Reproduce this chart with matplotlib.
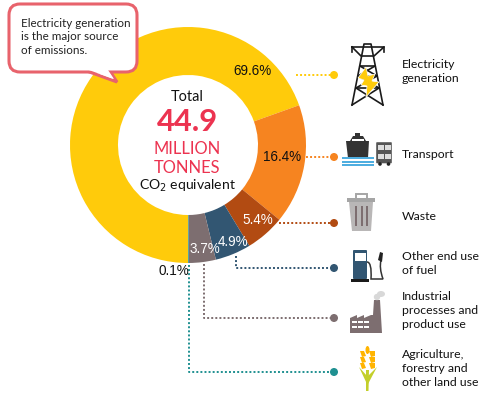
import matplotlib
matplotlib.use('Agg')
import matplotlib.pyplot as plt
from matplotlib.patches import Circle, FancyBboxPatch, Polygon, Rectangle, PathPatch, Ellipse
from matplotlib.path import Path

plt.rcParams['font.family'] = ['Lato', 'DejaVu Sans']

# slices, clockwise from six o'clock
sectors = ['Electricity generation', 'Transport', 'Waste', 'Other end use of fuel',
           'Industrial processes and product use', 'Agriculture, forestry and other land use']
shares = [69.6, 16.4, 5.4, 4.9, 3.7, 0.1]
share_labels = ['69.6%', '16.4%', '5.4%', '4.9%', '3.7%', '0.1%']
colours = ['#FFCB0B', '#F68420', '#B24B12', '#325672', '#7D6E70', '#1F9091']

legend_lines = [['Electricity', 'generation'], ['Transport'], ['Waste'],
                ['Other end use', 'of fuel'], ['Industrial', 'processes and', 'product use'],
                ['Agriculture,', 'forestry and', 'other land use']]
total = '44.9'

px = 0.72  # pixels to points at dpi 100
fig = plt.figure(figsize=(5, 3.95), dpi=100)
ax = fig.add_axes([0, 0, 1, 1])

# y axis runs downward so everything can be placed in picture pixels
ax.pie(shares, colors=colours, center=(188, 145), radius=118, startangle=90,
       counterclock=True, frame=True, wedgeprops={'width': 48, 'linewidth': 0})
ax.set_xlim(0, 500)
ax.set_ylim(395, 0)
ax.axis('off')

# slice labels
label_xy = [(253, 71), (282, 157), (258, 220), (233, 242), (205, 249), (174, 271)]
label_col = ['#111111', '#111111', 'white', 'white', 'white', '#111111']
for s, (x, y), c in zip(share_labels, label_xy, label_col):
    ax.text(x, y, s, color=c, fontsize=13.5*px, ha='center', va='center',
            family=['Liberation Sans', 'DejaVu Sans'])

# centre text
red = '#EC3350'
ax.text(187, 97, 'Total', fontsize=14.5*px, ha='center', va='center', color='#111111')
ax.text(188, 122, total, fontsize=31*px, ha='center', va='center', color=red, fontweight='bold')
ax.text(187, 149, 'MILLION', fontsize=16.5*px, ha='center', va='center', color=red)
ax.text(187, 168, 'TONNES', fontsize=16.5*px, ha='center', va='center', color=red)
ax.text(187, 186, 'CO$_2$ equivalent', fontsize=14*px, ha='center', va='center', color='#111111',
        math_fontfamily='dejavusans')

# leader lines
leaders = [[(296, 75), (334, 75)], [(306, 157), (334, 157)], [(279, 223), (334, 223)],
           [(236, 256), (236, 268), (334, 268)], [(204, 264), (204, 318), (334, 318)],
           [(189, 265), (189, 372), (334, 372)]]
for pts, c in zip(leaders, colours):
    ax.plot([p[0] for p in pts], [p[1] for p in pts], color=c, lw=1.4,
            ls=(0, (1, 1.1)))
    ax.add_patch(Circle(pts[-1], 4, color=c, lw=0, zorder=3))

# legend text
line_y = [[65, 79], [155], [216], [257, 271], [297, 311, 325], [355, 369, 383]]
for lines, ys in zip(legend_lines, line_y):
    for t, y in zip(lines, ys):
        ax.text(402, y, t, fontsize=12.2*px, ha='left', va='center', color='#111111')

# callout
edge = '#E8636C'
ax.add_patch(Polygon([(84, 70), (117, 82), (108, 68)], fc='white', ec=edge, lw=2.2, zorder=4))
ax.add_patch(FancyBboxPatch((20, 15), 106, 46, boxstyle='round,pad=11', fc='white', ec=edge,
                            lw=2.2, zorder=5))
ax.add_patch(Polygon([(86, 69), (114, 79), (106, 67)], fc='white', ec='none', zorder=6))
ax.text(21, 37, 'Electricity generation\nis the major source\nof emissions.', fontsize=11.6*px,
        ha='left', va='center', linespacing=1.25, color='#222222', zorder=7)

# --- icons ---
dark = '#1A1A1A'
# tower
for seg in [[(352, 105), (364, 44), (371, 44), (383, 105)],
            [(352, 47), (384, 47), (374, 56), (361, 56), (352, 47)],
            [(352, 52), (352, 47)], [(384, 52), (384, 47)],
            [(360, 66), (375, 66)], [(358, 76), (377, 76)], [(356, 88), (379, 88)],
            [(360, 66), (377, 76), (356, 88), (383, 105)], [(375, 66), (358, 76), (379, 88), (352, 105)]]:
    ax.plot([p[0] for p in seg], [p[1] for p in seg], color=dark, lw=1.2, zorder=3)
ax.add_patch(Polygon([(366, 67), (358, 78), (364, 80), (361, 85), (367, 86), (366, 97), (379, 82),
                      (372, 81), (375, 74), (368, 76)], fc='#FFCB0B', ec='white', lw=0.5, zorder=4))
# ship
ax.add_patch(Polygon([(346, 141), (369, 141), (368, 158), (348, 158)], fc='#333333', lw=0))
ax.add_patch(Polygon([(350, 141), (353, 136), (363, 136), (366, 141)], fc='#333333', lw=0))
ax.add_patch(Rectangle((355, 133), 5, 4, fc='#333333', lw=0))
ax.add_patch(Rectangle((352, 139), 12, 1.5, fc='white', lw=0))
for y in [157, 160.5, 164]:
    ax.add_patch(Rectangle((342, y), 32, 2.4, fc='#4FAEE0', lw=0))
# bus
ax.add_patch(FancyBboxPatch((377, 143), 14, 19.5, boxstyle='round,pad=0.8', fc='#555555', lw=0))
for y in [145, 154]:
    ax.add_patch(Rectangle((378, y), 5.6, 5, fc='#DDDDDD', lw=0))
    ax.add_patch(Rectangle((385, y), 5.6, 5, fc='#DDDDDD', lw=0))
ax.add_patch(Circle((380, 164), 1.8, fc='#222222', lw=0))
ax.add_patch(Circle((388.5, 164), 1.8, fc='#222222', lw=0))
# bin
ax.add_patch(Polygon([(349, 202), (373, 202), (371, 231), (352, 231)], fc='#B9B7B7', lw=0))
ax.add_patch(Rectangle((347, 198), 28, 4, fc='#A5A5A5', lw=0))
ax.add_patch(Rectangle((356, 193.5), 11, 5, fc='none', ec='#A5A5A5', lw=1.4))
for x in [356, 361.5, 367]:
    ax.add_patch(Rectangle((x - 1, 206), 2.4, 20, fc='#7D6E70', lw=0))
# pump
ax.add_patch(FancyBboxPatch((354, 251), 12, 27, boxstyle='round,pad=1', fc='#325672', lw=0))
ax.add_patch(Rectangle((355, 252.5), 10.5, 8, fc='white', lw=0))
ax.add_patch(Rectangle((351, 279), 18, 3, fc='#1A1A1A', lw=0))
hose = Path([(367, 262), (372, 262), (371, 279), (376, 279), (383, 279), (379, 268), (381, 260)],
            [Path.MOVETO, Path.CURVE3, Path.CURVE3, Path.CURVE3, Path.CURVE3, Path.CURVE3, Path.CURVE3])
ax.add_patch(PathPatch(hose, fc='none', ec='#333333', lw=1.1))
ax.add_patch(Polygon([(378, 260), (380, 252), (383, 253), (382, 262)], fc='#222222', lw=0))
# factory
ax.add_patch(Polygon([(350, 333), (350, 318), (357, 315), (357, 318), (364, 315), (364, 318),
                      (371, 315), (373, 315), (374, 300), (380, 300), (382, 333)], fc='#7D6E70', lw=0))
for y in [321, 326]:
    for x in [352, 358, 364]:
        ax.add_patch(Rectangle((x, y), 4.5, 2.2, fc='white', lw=0))
ax.add_patch(Ellipse((381, 294), 8, 6, fc='#D8D8D8', lw=0))
ax.add_patch(Circle((377, 297), 3.2, fc='#D8D8D8', lw=0))
# wheat
ax.add_patch(Polygon([(366, 370), (369, 370), (368.5, 391), (366, 391)], fc='#C3CF2B', lw=0))
ax.add_patch(Polygon([(359, 367), (367, 376), (367, 384)], fc='#C3CF2B', lw=0))
ax.add_patch(Polygon([(377, 367), (368, 376), (368, 384)], fc='#C3CF2B', lw=0))
for x, y in [(363, 366), (372, 366), (363, 360), (372, 360), (363, 354), (372, 354)]:
    ax.add_patch(Polygon([(x - 3, y - 3), (x + 1 if x < 367 else x + 3, y - 3), (x + 3, y + 2), (x - 1, y + 3)],
                         fc='#FFB400', lw=0))
ax.add_patch(Ellipse((367.5, 350), 4, 8, fc='#FFB400', lw=0))

fig.savefig('out.png', dpi=100)
